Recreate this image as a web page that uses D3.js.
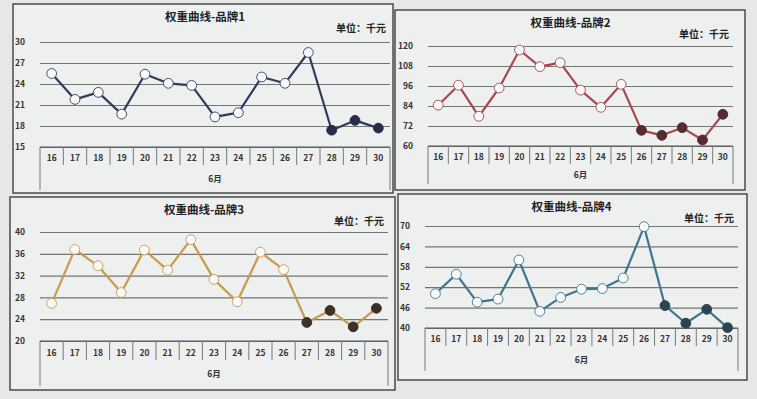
<!DOCTYPE html>
<html>
<head>
<meta charset="utf-8">
<script src="https://cdn.jsdelivr.net/npm/d3@7"></script>
<style>
  html, body { margin: 0; padding: 0; background: #e6e8e8; }
  svg { display: block; }
</style>
</head>
<body>
<svg id="chart" width="757" height="399"></svg>
<script>
// days of June shown on every panel
const days = ["16","17","18","19","20","21","22","23","24","25","26","27","28","29","30"];
const monthLabel = "6月";
const unitLabel = "单位：千元";

// values (千元)
const brand1 = [25.5, 21.8, 22.8, 19.7, 25.4, 24.1, 23.8, 19.3, 19.9, 25.0, 24.1, 28.5, 17.4, 18.8, 17.7];
const brand2 = [84.5, 96.5, 77.8, 94.8, 117.6, 107.6, 110, 93.5, 83.2, 97, 69.4, 66.4, 71, 63.6, 79];
const brand3 = [26.9, 36.8, 33.8, 28.9, 36.7, 33.0, 38.6, 31.3, 27.2, 36.3, 33.1, 23.4, 25.6, 22.6, 26.0];
const brand4 = [50.1, 55.8, 47.6, 48.5, 60.0, 44.9, 49.0, 51.4, 51.6, 54.7, 69.8, 46.6, 41.4, 45.5, 40.1];

// y ticks per panel
const ticks1 = [15, 18, 21, 24, 27, 30];
const ticks2 = [60, 72, 84, 96, 108, 120];
const ticks3 = [20, 24, 28, 32, 36, 40];
const ticks4 = [40, 46, 52, 58, 64, 70];

// how many points at the end are drawn as solid markers
const solid1 = 3, solid2 = 5, solid3 = 4, solid4 = 4;

const panels = [
  { title: "权重曲线-品牌1", values: brand1, ticks: ticks1, solid: solid1,
    box: [13, 4, 380, 189], plot: [40, 42, 390, 147], catBottom: 165, monthBottom: 190,
    line: "#2f3b5c", dark: "#262d46" },
  { title: "权重曲线-品牌2", values: brand2, ticks: ticks2, solid: solid2,
    box: [395, 10, 350, 180], plot: [428, 46, 733, 146], catBottom: 164, monthBottom: 184,
    line: "#a9474e", dark: "#552a30" },
  { title: "权重曲线-品牌3", values: brand3, ticks: ticks3, solid: solid3,
    box: [10, 197, 385, 193], plot: [40, 232, 388, 341], catBottom: 360, monthBottom: 386,
    line: "#c89a4c", dark: "#3a3226" },
  { title: "权重曲线-品牌4", values: brand4, ticks: ticks4, solid: solid4,
    box: [398, 194, 349, 186], plot: [425, 226, 738, 328], catBottom: 346, monthBottom: 371,
    line: "#3f7591", dark: "#2b4550" }
];

const svg = d3.select("#chart");
const font = "'Noto Sans CJK SC', 'Noto Sans', sans-serif";

panels.forEach(p => {
  const [bx, by, bw, bh] = p.box;
  const [x0, y0, x1, y1] = p.plot;
  const g = svg.append("g");

  g.append("rect")
    .attr("x", bx).attr("y", by).attr("width", bw).attr("height", bh)
    .attr("fill", "#eef0f0")
    .attr("stroke", "#4a4a4a").attr("stroke-width", 1.5);

  const x = d3.scaleBand().domain(days).range([x0, x1]);
  const y = d3.scaleLinear().domain(d3.extent(p.ticks)).range([y1, y0]);

  // title + unit
  g.append("text")
    .attr("x", (x0 + x1) / 2 - 10).attr("y", by + 17)
    .attr("text-anchor", "middle")
    .attr("font-family", font).attr("font-size", 11.5).attr("font-weight", 700)
    .attr("fill", "#222")
    .text(p.title);
  g.append("text")
    .attr("x", x1 - 4).attr("y", by + 28)
    .attr("text-anchor", "end")
    .attr("font-family", font).attr("font-size", 10).attr("font-weight", 700)
    .attr("fill", "#222")
    .text(unitLabel);

  // gridlines + y labels
  const yAxis = d3.axisLeft(y).tickValues(p.ticks).tickSize(-(x1 - x0)).tickPadding(15);
  const ya = g.append("g").attr("transform", `translate(${x0},0)`).call(yAxis);
  ya.select(".domain").remove();
  ya.selectAll(".tick line").attr("stroke", "#737575").attr("stroke-width", 1.2);
  ya.selectAll(".tick text")
    .attr("font-family", font).attr("font-size", 8.5).attr("font-weight", 700)
    .attr("fill", "#333");

  // category axis boxes (multi-level: day row, then month row)
  const ca = g.append("g");
  ca.append("line")
    .attr("x1", x0).attr("x2", x1).attr("y1", y1).attr("y2", y1)
    .attr("stroke", "#555").attr("stroke-width", 1.2);
  const edges = days.slice(1).map(d => x(d));
  ca.selectAll("line.div").data(edges).join("line")
    .attr("class", "div")
    .attr("x1", d => d).attr("x2", d => d)
    .attr("y1", y1).attr("y2", p.catBottom)
    .attr("stroke", "#777").attr("stroke-width", 1);
  [x0, x1].forEach(v => {
    ca.append("line")
      .attr("x1", v).attr("x2", v).attr("y1", y1).attr("y2", p.monthBottom)
      .attr("stroke", "#777").attr("stroke-width", 1);
  });
  ca.selectAll("text.day").data(days).join("text")
    .attr("class", "day")
    .attr("x", d => x(d) + x.bandwidth() / 2)
    .attr("y", (y1 + p.catBottom) / 2 + 5)
    .attr("text-anchor", "middle")
    .attr("font-family", font).attr("font-size", 8.5).attr("font-weight", 700)
    .attr("fill", "#333")
    .text(d => d);
  ca.append("text")
    .attr("x", (x0 + x1) / 2).attr("y", (p.catBottom + p.monthBottom) / 2 + 4)
    .attr("text-anchor", "middle")
    .attr("font-family", font).attr("font-size", 8.5).attr("font-weight", 700)
    .attr("fill", "#333")
    .text(monthLabel);

  // line + markers
  const pts = p.values.map((v, i) => ({ day: days[i], v, solid: i >= p.values.length - p.solid }));
  const line = d3.line().x(d => x(d.day) + x.bandwidth() / 2).y(d => y(d.v));
  g.append("path").datum(pts)
    .attr("d", line)
    .attr("fill", "none")
    .attr("stroke", p.line).attr("stroke-width", 2.2)
    .attr("stroke-linejoin", "round");
  g.selectAll("circle").data(pts).join("circle")
    .attr("cx", d => x(d.day) + x.bandwidth() / 2)
    .attr("cy", d => y(d.v))
    .attr("r", 4.9)
    .attr("fill", d => d.solid ? p.dark : "#fbfbfb")
    .attr("stroke", d => d.solid ? p.dark : p.line)
    .attr("stroke-width", d => d.solid ? 1 : 0.9);
});
</script>
</body>
</html>
